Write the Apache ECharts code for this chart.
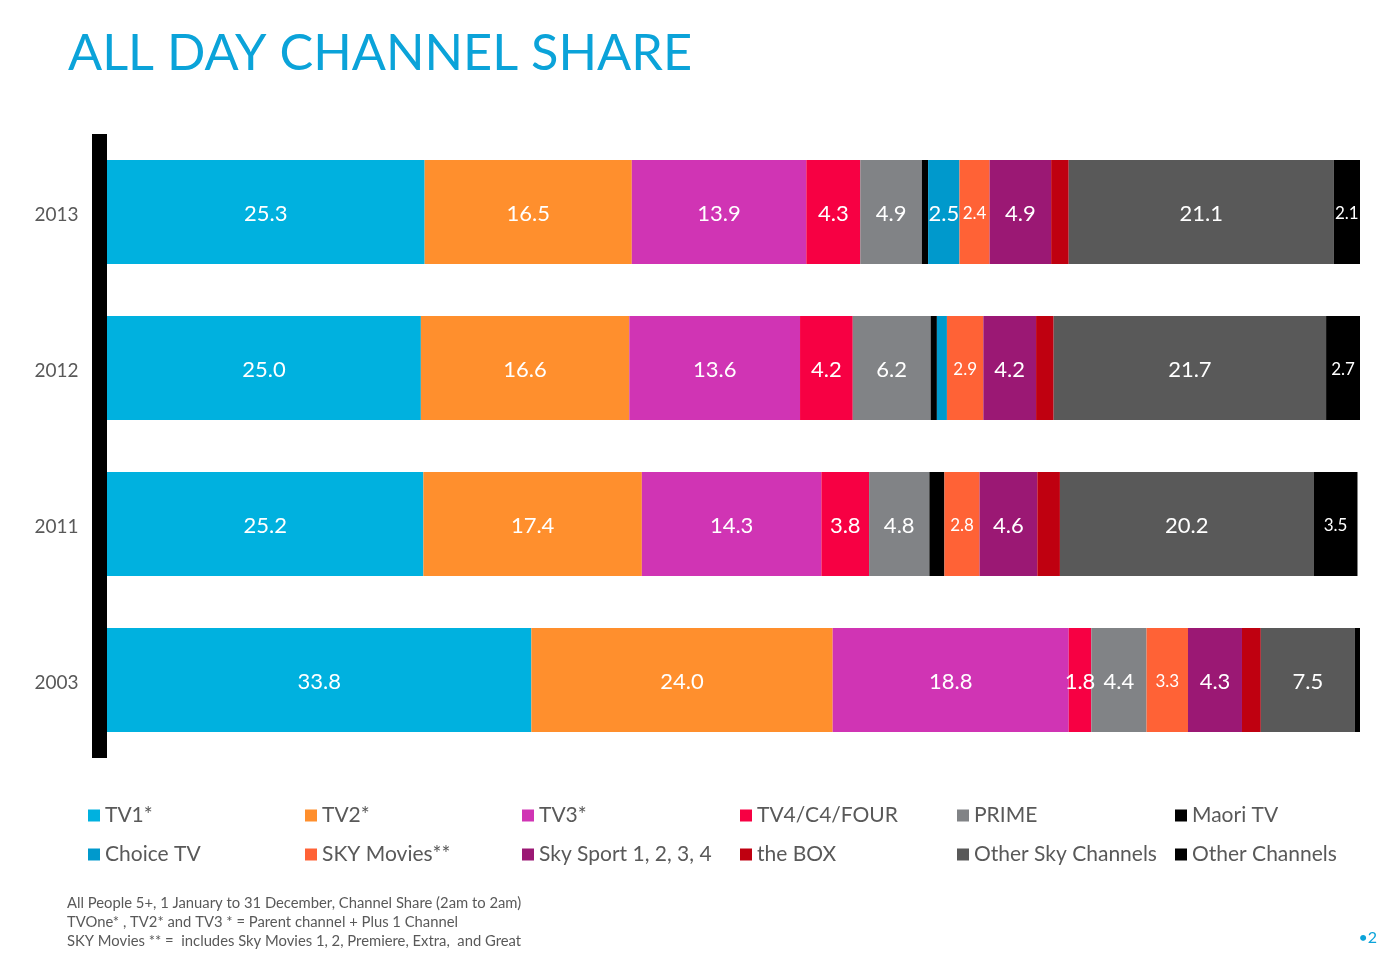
<!DOCTYPE html>
<html>
<head>
<meta charset="utf-8">
<title>All Day Channel Share</title>
<script src="https://cdn.jsdelivr.net/npm/echarts@6.0.0/dist/echarts.min.js"></script>
<style>
    html, body {margin: 0; padding: 0; background: #fff;}
    #chart {width: 1391px; height: 956px;}
</style>
</head>
<body>
<div id="chart"></div>
<script>
const years = ['2013', '2012', '2011', '2003']

const channels = [
    'TV1*', 'TV2*', 'TV3*', 'TV4/C4/FOUR', 'PRIME', 'Maori TV',
    'Choice TV', 'SKY Movies**', 'Sky Sport 1, 2, 3, 4', 'the BOX', 'Other Sky Channels', 'Other Channels'
]

// share per channel, same order as years
const tv1 = [25.3, 25.0, 25.2, 33.8]
const tv2 = [16.5, 16.6, 17.4, 24.0]
const tv3 = [13.9, 13.6, 14.3, 18.8]
const tv4 = [4.3, 4.2, 3.8, 1.8]
const prime = [4.9, 6.2, 4.8, 4.4]
const maori = [0.5, 0.5, 1.2, 0]
const choice = [2.5, 0.8, 0, 0]
const skyMovies = [2.4, 2.9, 2.8, 3.3]
const skySport = [4.9, 4.2, 4.6, 4.3]
const theBox = [1.4, 1.4, 1.8, 1.5]
const otherSky = [21.1, 21.7, 20.2, 7.5]
const otherChannels = [2.1, 2.7, 3.5, 0.6]

const seriesValues = [tv1, tv2, tv3, tv4, prime, maori, choice, skyMovies, skySport, theBox, otherSky, otherChannels]

const colors = [
    '#00B1DF', '#FF8F2D', '#D034B4', '#F70043', '#818386', '#000000',
    '#0099CC', '#FF6236', '#9B1874', '#BF0010', '#595959', '#000000'
]

const font = 'Lato, "Open Sans", sans-serif'
const smallLabel = ['SKY Movies**', 'Other Channels']
const noLabel = ['Maori TV', 'the BOX']

const chart = echarts.init(document.getElementById('chart'))

const series = channels.map((name, i) => ({
    name: name,
    type: 'bar',
    stack: 'share',
    barCategoryGap: '33.3%',
    itemStyle: {color: colors[i]},
    label: {
        show: noLabel.indexOf(name) < 0,
        position: 'inside',
        offset: [0, 2],
        color: '#fff',
        fontFamily: font,
        fontSize: smallLabel.indexOf(name) >= 0 ? 17 : 22,
        formatter: (p) => p.value >= 1.5 ? p.value.toFixed(1) : ''
    },
    emphasis: {disabled: true},
    data: seriesValues[i]
}))

// legend: six columns, two rows each
const legendLefts = [88, 305, 522, 740, 957, 1175]
const legends = legendLefts.map((x, i) => ({
    orient: 'vertical',
    left: x,
    top: 805,
    padding: 0,
    itemWidth: 12,
    itemHeight: 12,
    itemGap: 18,
    icon: 'rect',
    selectedMode: false,
    textStyle: {fontFamily: font, fontSize: 21, lineHeight: 21, color: '#595959'},
    data: [channels[i], channels[i + 6]]
}))

const option = {
    animation: false,
    textStyle: {fontFamily: font},
    grid: {left: 107, right: 31, top: 134, height: 624},
    xAxis: {
        type: 'value',
        min: 0,
        max: 99.8,
        show: false
    },
    yAxis: {
        type: 'category',
        data: years,
        inverse: true,
        offset: 7.5,
        axisLine: {onZero: false, lineStyle: {color: '#000', width: 15, cap: 'butt'}},
        axisTick: {show: false},
        axisLabel: {margin: 21, fontSize: 19, color: '#595959', fontFamily: font, verticalAlign: 'top', lineHeight: 6}
    },
    legend: legends,
    series: series,
    graphic: [
        {
            type: 'text',
            left: 68,
            top: 28,
            style: {text: 'ALL DAY CHANNEL SHARE', font: '50.5px ' + font, fill: '#0BA3D9'}
        },
        {
            type: 'text',
            left: 67,
            top: 894,
            style: {
                text: 'All People 5+, 1 January to 31 December, Channel Share (2am to 2am)\nTVOne* , TV2* and TV3 * = Parent channel + Plus 1 Channel\nSKY Movies ** =  includes Sky Movies 1, 2, Premiere, Extra,  and Great',
                font: '14.8px ' + font,
                lineHeight: 19,
                fill: '#595959'
            }
        },
        {
            type: 'text',
            right: 14,
            top: 930,
            style: {text: '•2', font: '16px ' + font, fill: '#0BA3D9'}
        }
    ]
}

chart.setOption(option)
</script>
</body>
</html>
